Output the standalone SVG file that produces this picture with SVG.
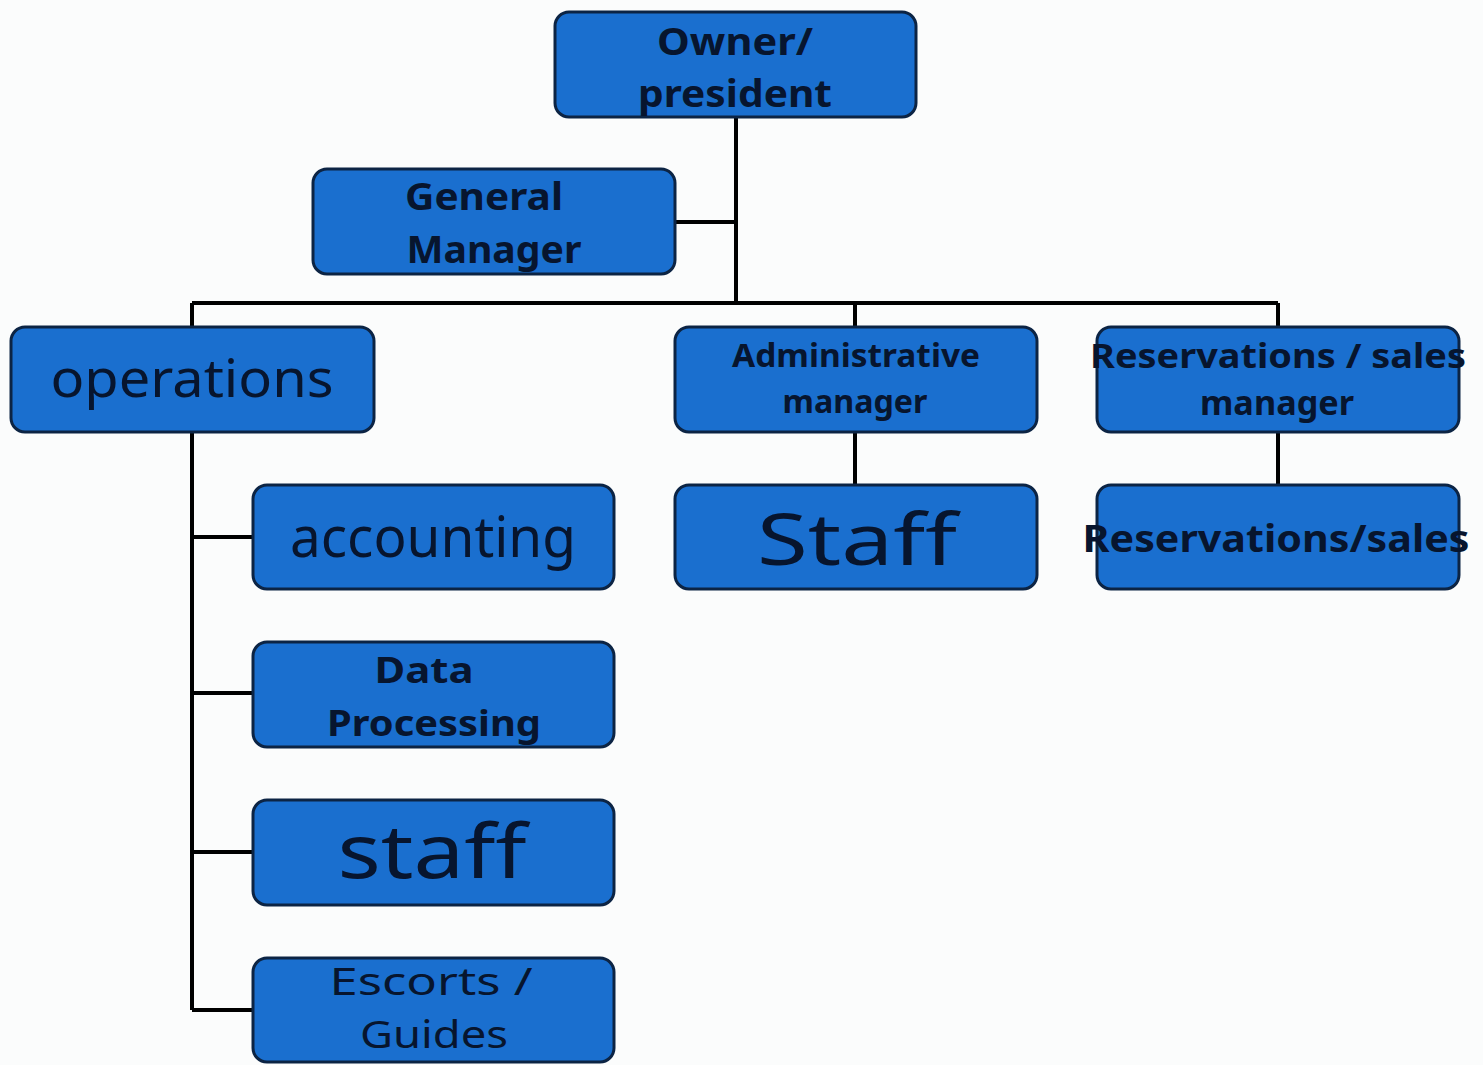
<svg xmlns="http://www.w3.org/2000/svg" width="1483" height="1065" viewBox="0 0 1483 1065">
<style>
.box{fill:#1a6fcf;stroke:#0c2444;stroke-width:3}
.t{font-family:"Noto Sans","DejaVu Sans",sans-serif;fill:#07152e;text-anchor:middle}
.b{font-weight:bold}
.c{stroke:#000;stroke-width:4;fill:none}
</style>
<rect width="1483" height="1065" fill="#fbfcfc"/>
<g id="connectors">
<path class="c" d="M736 117V303M675 222H736M192 303H1278M192 303V327M855 303V327M1278 303V327M855 432V485M1278 432V485M192 432V1010M192 537H253M192 693H253M192 852H253M192 1010H253"/>
</g>
<g id="owner"><rect class="box" x="555" y="12" width="361" height="105" rx="14"/>
<text class="t b" x="735" y="55" font-size="38" textLength="156" lengthAdjust="spacingAndGlyphs">Owner/</text>
<text class="t b" x="735" y="107" font-size="38" textLength="194" lengthAdjust="spacingAndGlyphs">president</text></g>
<g id="gm"><rect class="box" x="313" y="169" width="362" height="105" rx="14"/>
<text class="t b" x="484" y="210" font-size="38" textLength="158" lengthAdjust="spacingAndGlyphs">General</text>
<text class="t b" x="494" y="263" font-size="38" textLength="175" lengthAdjust="spacingAndGlyphs">Manager</text></g>
<g id="operations"><rect class="box" x="11" y="327" width="363" height="105" rx="14"/>
<text class="t" x="192" y="397" font-size="52" textLength="283" lengthAdjust="spacingAndGlyphs">operations</text></g>
<g id="admin"><rect class="box" x="675" y="327" width="362" height="105" rx="14"/>
<text class="t b" x="856" y="367" font-size="32" textLength="248" lengthAdjust="spacingAndGlyphs">Administrative</text>
<text class="t b" x="855" y="413" font-size="32" textLength="145" lengthAdjust="spacingAndGlyphs">manager</text></g>
<g id="resmgr"><rect class="box" x="1097" y="327" width="362" height="105" rx="14"/>
<text class="t b" x="1278" y="368" font-size="34" textLength="376" lengthAdjust="spacingAndGlyphs">Reservations / sales</text>
<text class="t b" x="1277" y="415" font-size="34" textLength="154" lengthAdjust="spacingAndGlyphs">manager</text></g>
<g id="accounting"><rect class="box" x="253" y="485" width="361" height="104" rx="14"/>
<text class="t" x="433" y="557" font-size="56" textLength="286" lengthAdjust="spacingAndGlyphs">accounting</text></g>
<g id="adminstaff"><rect class="box" x="675" y="485" width="362" height="104" rx="14"/>
<text class="t" x="857" y="565" font-size="72" textLength="200" lengthAdjust="spacingAndGlyphs">Staff</text></g>
<g id="ressales"><rect class="box" x="1097" y="485" width="362" height="104" rx="14"/>
<text class="t b" x="1276" y="552" font-size="38" textLength="387" lengthAdjust="spacingAndGlyphs">Reservations/sales</text></g>
<g id="dataproc"><rect class="box" x="253" y="642" width="361" height="105" rx="14"/>
<text class="t b" x="424" y="683" font-size="36" textLength="99" lengthAdjust="spacingAndGlyphs">Data</text>
<text class="t b" x="434" y="736" font-size="36" textLength="214" lengthAdjust="spacingAndGlyphs">Processing</text></g>
<g id="opsstaff"><rect class="box" x="253" y="800" width="361" height="105" rx="14"/>
<text class="t" x="432" y="878" font-size="74" textLength="189" lengthAdjust="spacingAndGlyphs">staff</text></g>
<g id="escorts"><rect class="box" x="253" y="958" width="361" height="104" rx="14"/>
<text class="t" x="431" y="995" font-size="38" textLength="203" lengthAdjust="spacingAndGlyphs">Escorts /</text>
<text class="t" x="434" y="1048" font-size="38" textLength="148" lengthAdjust="spacingAndGlyphs">Guides</text></g>
</svg>
